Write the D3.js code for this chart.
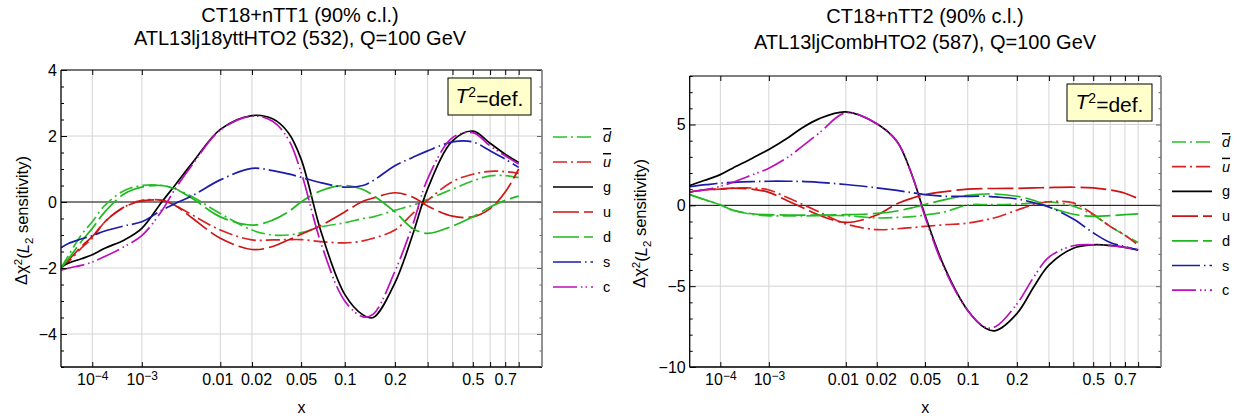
<!DOCTYPE html>
<html>
<head>
<meta charset="utf-8">
<script src="https://cdn.jsdelivr.net/npm/d3@7/dist/d3.min.js"></script>
<style>
  body { margin: 0; background: #fff; }
  svg text { font-family: "Liberation Sans", Arial, Helvetica, sans-serif; fill: #000; }
</style>
</head>
<body>
<script>
var xGrid = [1e-5, 2e-5, 5e-5, 1e-4, 2e-4, 5e-4, 1e-3, 2e-3, 3e-3, 5e-3,
             0.01, 0.02, 0.03, 0.04, 0.05, 0.07, 0.1, 0.13, 0.15, 0.2,
             0.25, 0.3, 0.4, 0.5, 0.6, 0.7, 0.8];

// x axis ticks
var xTickValues = [1e-4, 1e-3, 0.01, 0.02, 0.05, 0.1, 0.2, 0.5, 0.7];
var xTickLabels = ["10^-4", "10^-3", "0.01", "0.02", "0.05", "0.1", "0.2", "0.5", "0.7"];
var xMinorTicks = [0.3, 0.4, 0.6, 0.8];

var seriesKeys = ["dbar", "ubar", "g", "u", "d", "s", "c"];
var seriesLabels = ["d", "u", "g", "u", "d", "s", "c"];

// left panel : CT18+nTT1, ATL13lj18yttHTO2 (532)
var nTT1_dbar = [-2.0, -1.6, -1.0, -0.6, -0.1, 0.35, 0.5, 0.5, 0.4, 0.15,
                 -0.35, -0.85, -1.0, -1.0, -0.93, -0.75, -0.63, -0.5, -0.45, -0.25,
                 -0.1, 0.08, 0.39, 0.64, 0.79, 0.8, 0.74];
var nTT1_ubar = [-2.0, -1.8, -1.4, -1.1, -0.6, -0.15, 0.05, 0.05, -0.1, -0.4,
                 -0.85, -1.15, -1.15, -1.14, -1.14, -1.2, -1.24, -1.18, -1.1, -0.85,
                 -0.35, 0.05, 0.62, 0.84, 0.93, 0.92, 0.87];
var nTT1_g    = [-1.97, -1.85, -1.72, -1.6, -1.4, -1.15, -0.8, 0.0, 0.5, 1.2,
                 2.2, 2.62, 2.52, 2.1, 1.3, -0.95, -2.8, -3.42, -3.5, -2.45,
                 -1.0, 0.4, 1.85, 2.15, 1.78, 1.45, 1.2];
var nTT1_u    = [-2.0, -1.75, -1.35, -1.05, -0.6, -0.15, 0.03, 0.05, -0.1, -0.5,
                 -1.1, -1.44, -1.35, -1.15, -0.98, -0.7, -0.3, 0.02, 0.12, 0.28,
                 0.15, -0.12, -0.43, -0.45, -0.2, 0.3, 1.0];
var nTT1_d    = [-2.0, -1.7, -1.2, -0.8, -0.3, 0.25, 0.45, 0.5, 0.4, 0.1,
                 -0.45, -0.7, -0.55, -0.3, 0.0, 0.35, 0.5, 0.38, 0.2, -0.3,
                 -0.8, -0.95, -0.73, -0.45, -0.15, 0.05, 0.18];
var nTT1_s    = [-1.39, -1.25, -1.12, -1.02, -0.88, -0.72, -0.6, -0.25, -0.05, 0.2,
                 0.67, 1.02, 0.95, 0.85, 0.75, 0.58, 0.45, 0.5, 0.65, 1.1,
                 1.35, 1.55, 1.82, 1.82, 1.55, 1.3, 1.05];
var nTT1_c    = [-2.07, -2.0, -1.92, -1.82, -1.65, -1.35, -1.02, -0.27, 0.38, 1.15,
                 2.18, 2.6, 2.45, 1.9, 0.9, -1.3, -3.0, -3.48, -3.4, -2.1,
                 -0.7, 0.7, 1.95, 2.1, 1.7, 1.4, 1.15];

// right panel : CT18+nTT2, ATL13ljCombHTO2 (587)
var nTT2_dbar = [0.66, 0.5, 0.25, 0.02, -0.3, -0.55, -0.65, -0.65, -0.65, -0.64,
                 -0.64, -0.78, -0.75, -0.7, -0.6, -0.4, 0.02, 0.05, 0.05, 0.08,
                 0.15, 0.22, -0.05, -0.6, -1.3, -1.85, -2.3];
var nTT2_ubar = [0.81, 0.9, 0.98, 1.0, 1.05, 1.07, 0.95, 0.45, 0.1, -0.4,
                 -1.15, -1.5, -1.45, -1.38, -1.3, -1.2, -1.1, -0.9, -0.75, -0.3,
                 0.05, 0.22, 0.15, -0.55, -1.3, -1.85, -2.45];
var nTT2_g    = [1.22, 1.4, 1.65, 1.9, 2.3, 2.9, 3.46, 4.2, 4.75, 5.35,
                 5.78, 5.05, 3.95, 1.8, -0.6, -3.9, -6.5, -7.6, -7.75, -6.7,
                 -5.0, -3.7, -2.65, -2.44, -2.48, -2.6, -2.75];
var nTT2_u    = [0.81, 0.9, 0.98, 1.02, 1.06, 1.0, 0.8, 0.25, -0.1, -0.6,
                 -1.05, -0.6, 0.1, 0.45, 0.66, 0.85, 1.0, 1.04, 1.04, 1.05,
                 1.08, 1.1, 1.12, 1.08, 0.95, 0.75, 0.42];
var nTT2_d    = [0.66, 0.5, 0.25, 0.04, -0.3, -0.52, -0.58, -0.6, -0.6, -0.6,
                 -0.58, -0.5, -0.35, -0.15, 0.05, 0.35, 0.62, 0.7, 0.7, 0.56,
                 0.3, -0.1, -0.55, -0.68, -0.64, -0.58, -0.53];
var nTT2_s    = [1.15, 1.22, 1.3, 1.37, 1.42, 1.47, 1.49, 1.49, 1.48, 1.42,
                 1.29, 1.08, 0.92, 0.78, 0.66, 0.56, 0.56, 0.56, 0.52, 0.4,
                 0.15, -0.1, -0.85, -1.7, -2.3, -2.55, -2.78];
var nTT2_c    = [0.81, 0.9, 1.02, 1.18, 1.42, 1.88, 2.3, 3.0, 3.6, 4.45,
                 5.72, 5.05, 3.95, 1.8, -0.7, -4.0, -6.5, -7.55, -7.5, -6.1,
                 -4.4, -3.2, -2.5, -2.44, -2.5, -2.6, -2.75];

// line styles per parton
var lineStyle = {
  dbar: { color: "#2cbf2c", dash: "14,4,2,4" },
  ubar: { color: "#d82424", dash: "14,4,2,4" },
  g:    { color: "#000000", dash: null },
  u:    { color: "#cc1414", dash: "26,5" },
  d:    { color: "#1fb81f", dash: "26,5" },
  s:    { color: "#1c1ca8", dash: "28,4,1.5,4" },
  c:    { color: "#bb10bb", dash: "24,4,1.5,3,1.5,4" }
};

// Mathematica nudges the crowded labels a little apart
var labelNudge = { "0.01": -3, "0.02": 4 };

var svg = d3.select("body").append("svg")
  .attr("width", 1235)
  .attr("height", 416);

var panels = [
  {
    id: "L", left: 61, right: 542, top: 70, bottom: 367,
    yDomain: [-5, 4], yMajor: [-4, -2, 0, 2, 4], yMinorStep: 0.5,
    title: ["CT18+nTT1 (90% c.l.)", "ATL13lj18yttHTO2 (532), Q=100 GeV"],
    titleX: 300, titleY: [22, 45],
    data: { dbar: nTT1_dbar, ubar: nTT1_ubar, g: nTT1_g, u: nTT1_u, d: nTT1_d, s: nTT1_s, c: nTT1_c },
    legX: 553, legY: 137, legStep: 25,
    box: [448, 78, 83, 37], ylabX: 27
  },
  {
    id: "R", left: 689.7, right: 1161, top: 76, bottom: 367,
    yDomain: [-10, 8], yMajor: [-10, -5, 0, 5], yMinorStep: 1,
    title: ["CT18+nTT2 (90% c.l.)", "ATL13ljCombHTO2 (587), Q=100 GeV"],
    titleX: 925, titleY: [23, 49],
    data: { dbar: nTT2_dbar, ubar: nTT2_ubar, g: nTT2_g, u: nTT2_u, d: nTT2_d, s: nTT2_s, c: nTT2_c },
    legX: 1172, legY: 142, legStep: 24.7,
    box: [1067, 84, 85, 37], ylabX: 645
  }
];

panels.forEach(drawPanel);

function drawPanel(p) {
  var x = d3.scalePow().exponent(0.2).domain([1e-5, 1]).range([p.left, p.right]);
  var y = d3.scaleLinear().domain(p.yDomain).range([p.bottom, p.top]);
  var g = svg.append("g");

  svg.append("clipPath").attr("id", "clip" + p.id)
    .append("rect")
    .attr("x", p.left).attr("y", p.top)
    .attr("width", p.right - p.left).attr("height", p.bottom - p.top);

  // grid lines
  var allX = xTickValues.concat(xMinorTicks);
  g.selectAll(".vgrid").data(allX).enter().append("line")
    .attr("x1", d => x(d)).attr("x2", d => x(d))
    .attr("y1", p.top).attr("y2", p.bottom)
    .attr("stroke", "#d4d4d4").attr("stroke-width", 1);
  g.selectAll(".hgrid").data(p.yMajor.filter(v => v !== 0)).enter().append("line")
    .attr("x1", p.left).attr("x2", p.right)
    .attr("y1", d => y(d)).attr("y2", d => y(d))
    .attr("stroke", "#d4d4d4").attr("stroke-width", 1);
  g.append("line")
    .attr("x1", p.left).attr("x2", p.right)
    .attr("y1", y(0)).attr("y2", y(0))
    .attr("stroke", "#000").attr("stroke-width", 1);

  // curves
  var line = d3.line()
    .x((d, i) => x(xGrid[i]))
    .y(d => y(d))
    .curve(d3.curveCatmullRom.alpha(0.5));
  var curves = g.append("g").attr("clip-path", "url(#clip" + p.id + ")");
  seriesKeys.forEach(function(k) {
    curves.append("path")
      .attr("d", line(p.data[k]))
      .attr("fill", "none")
      .attr("stroke", lineStyle[k].color)
      .attr("stroke-width", 1.7)
      .attr("stroke-dasharray", lineStyle[k].dash);
  });

  // x axis bottom
  var xAxis = d3.axisBottom(x).tickValues(xTickValues)
    .tickSizeInner(-5).tickSizeOuter(0).tickPadding(7)
    .tickFormat((d, i) => xTickLabels[i]);
  var ax = g.append("g").attr("transform", `translate(0,${p.bottom})`).call(xAxis);
  ax.select(".domain").remove();
  ax.selectAll("text").style("font-size", "16px").each(function(d, i) {
    var lab = xTickLabels[i];
    var t = d3.select(this);
    if (labelNudge[lab]) t.attr("x", labelNudge[lab]);
    if (lab.indexOf("^") > 0) {
      var parts = lab.split("^");
      t.text(parts[0]);
      t.append("tspan").attr("dy", "-0.45em").style("font-size", "12px")
        .text(parts[1].replace("-", "\u2212"));
    }
  });
  var axm = g.append("g").attr("transform", `translate(0,${p.bottom})`)
    .call(d3.axisBottom(x).tickValues(xMinorTicks).tickSizeInner(-5).tickSizeOuter(0).tickFormat(""));
  axm.select(".domain").remove();

  // top ticks
  var axt = g.append("g").attr("transform", `translate(0,${p.top})`)
    .call(d3.axisTop(x).tickValues(allX).tickSizeInner(-5).tickSizeOuter(0).tickFormat(""));
  axt.select(".domain").remove();

  // y axis left
  var yMinor = d3.range(p.yDomain[0], p.yDomain[1] + 1e-9, p.yMinorStep).filter(v => p.yMajor.indexOf(v) < 0);
  var ay = g.append("g").attr("transform", `translate(${p.left},0)`)
    .call(d3.axisLeft(y).tickValues(p.yMajor).tickSizeInner(-6).tickSizeOuter(0).tickPadding(4));
  ay.select(".domain").remove();
  ay.selectAll("text").style("font-size", "16px");
  var aym = g.append("g").attr("transform", `translate(${p.left},0)`)
    .call(d3.axisLeft(y).tickValues(yMinor).tickSizeInner(-3).tickSizeOuter(0).tickFormat(""));
  aym.select(".domain").remove();

  // mirrored ticks on the right frame
  var ar = g.append("g").attr("transform", `translate(${p.right},0)`)
    .call(d3.axisRight(y).tickValues(p.yMajor).tickSizeInner(-5).tickSizeOuter(0).tickFormat(""));
  ar.select(".domain").remove();
  ar.selectAll("line").attr("stroke", "#666");
  var arm = g.append("g").attr("transform", `translate(${p.right},0)`)
    .call(d3.axisRight(y).tickValues(yMinor).tickSizeInner(-2.5).tickSizeOuter(0).tickFormat(""));
  arm.select(".domain").remove();
  arm.selectAll("line").attr("stroke", "#666");

  // frame
  g.append("line").attr("x1", p.left).attr("x2", p.right).attr("y1", p.top).attr("y2", p.top)
    .attr("stroke", "#000").attr("stroke-width", 1);
  g.append("line").attr("x1", p.left).attr("x2", p.right).attr("y1", p.bottom).attr("y2", p.bottom)
    .attr("stroke", "#000").attr("stroke-width", 1.3);
  g.append("line").attr("x1", p.left).attr("x2", p.left).attr("y1", p.top).attr("y2", p.bottom)
    .attr("stroke", "#000").attr("stroke-width", 1.3);
  g.append("line").attr("x1", p.right).attr("x2", p.right).attr("y1", p.top).attr("y2", p.bottom)
    .attr("stroke", "#777").attr("stroke-width", 1.6);

  // titles
  p.title.forEach(function(t, i) {
    g.append("text").attr("x", p.titleX).attr("y", p.titleY[i])
      .attr("text-anchor", "middle").style("font-size", "20px").text(t);
  });

  // axis labels
  g.append("text").attr("x", (p.left + p.right) / 2).attr("y", 413)
    .attr("text-anchor", "middle").style("font-size", "16px").text("x");
  var yl = g.append("text")
    .attr("transform", `translate(${p.ylabX},${(p.top + p.bottom) / 2 + 2}) rotate(-90)`)
    .attr("text-anchor", "middle").style("font-size", "16.5px");
  yl.append("tspan").text("\u0394\u03c7");
  yl.append("tspan").attr("dy", "-0.45em").style("font-size", "11.5px").text("2");
  yl.append("tspan").attr("dy", "0.45em").text("(");
  yl.append("tspan").style("font-style", "italic").text("L");
  yl.append("tspan").attr("dy", "0.3em").style("font-size", "11.5px").text("2");
  yl.append("tspan").attr("dy", "-0.3em").text(" sensitivity)");

  // T^2 = def. box
  g.append("rect").attr("x", p.box[0]).attr("y", p.box[1])
    .attr("width", p.box[2]).attr("height", p.box[3])
    .attr("fill", "#ffffcc").attr("stroke", "#000").attr("stroke-width", 1);
  var bt = g.append("text").attr("x", p.box[0] + p.box[2] / 2).attr("y", p.box[1] + 25)
    .attr("text-anchor", "middle").style("font-size", "21px");
  bt.append("tspan").style("font-style", "italic").text("T");
  bt.append("tspan").attr("dy", "-0.45em").style("font-size", "14px").text("2");
  bt.append("tspan").attr("dy", "0.45em").text("=def.");

  // legend
  seriesKeys.forEach(function(k, i) {
    var ly = p.legY + i * p.legStep;
    g.append("line").attr("x1", p.legX).attr("x2", p.legX + 40)
      .attr("y1", ly).attr("y2", ly)
      .attr("stroke", lineStyle[k].color).attr("stroke-width", 1.7)
      .attr("stroke-dasharray", lineStyle[k].dash);
    var lt = g.append("text").attr("x", p.legX + 50).attr("y", ly + 5)
      .style("font-size", "14.5px").text(seriesLabels[i]);
    if (k === "dbar" || k === "ubar") {
      lt.style("font-style", "italic").style("text-decoration", "overline");
    }
  });
}
</script>
</body>
</html>
